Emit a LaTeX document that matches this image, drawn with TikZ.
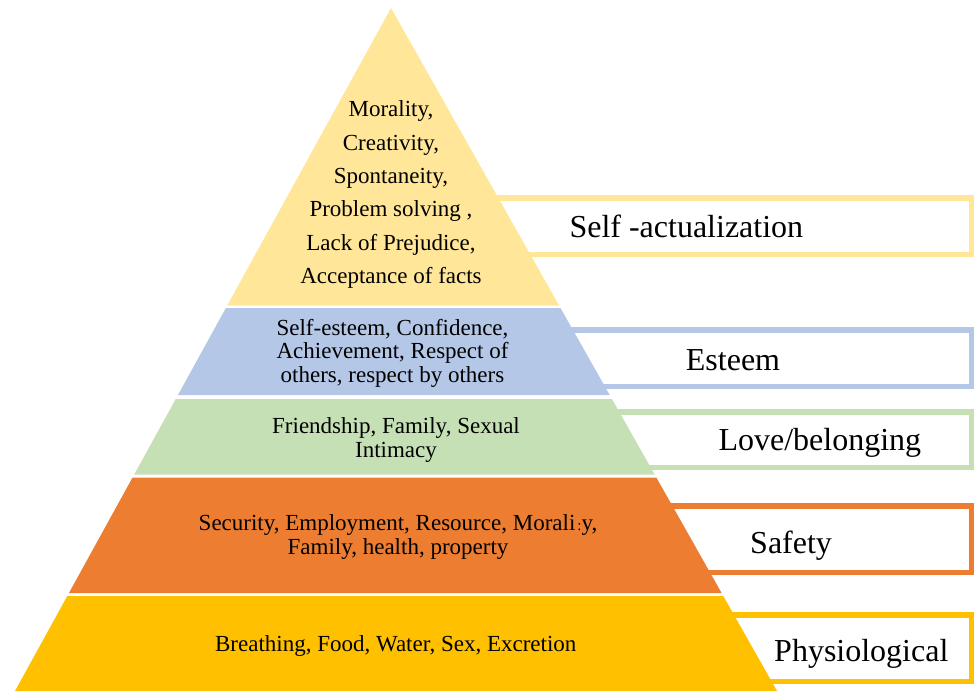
\documentclass[tikz,border=0pt]{standalone}
\usepackage{fontspec}
\setmainfont{Liberation Serif}
\definecolor{topyellow}{HTML}{FFE699}
\definecolor{esteemblue}{HTML}{B4C7E7}
\definecolor{lovegreen}{HTML}{C5E0B4}
\definecolor{safeorange}{HTML}{ED7D31}
\definecolor{basegold}{HTML}{FFC000}
\begin{document}
\begin{tikzpicture}[x=1pt,y=-1pt,
  lvlbox/.style={draw=#1, line width=5.5pt, fill=white},
  % multi-line text: the base anchor sits on the last line
  tiertext/.style={font=\fontsize{23}{#1}\selectfont, align=center, anchor=base, inner sep=0pt},
  lvllabel/.style={font=\fontsize{32}{38}\selectfont, anchor=base west, inner sep=0pt}]
\useasboundingbox (0,0) rectangle (974,691);

% label frames, partly hidden behind the pyramid
\draw[lvlbox=topyellow]  (470,197.75) rectangle (971.25,254.25);
\draw[lvlbox=esteemblue] (550,330)    rectangle (971.25,386.5);
\draw[lvlbox=lovegreen]  (600,411.75) rectangle (971.25,467.25);
\draw[lvlbox=safeorange] (660,506)    rectangle (971.25,572.3);
\draw[lvlbox=basegold]   (720,615)    rectangle (971.25,681.5);

% pyramid tiers
\fill[topyellow]  (391,8) -- (559.1,305.5) -- (227.2,305.5) -- cycle;
\fill[esteemblue] (225.85,308) -- (560.5,308) -- (609.7,395) -- (177.95,395) -- cycle;
\fill[lovegreen]  (175.75,399) -- (611.97,399) -- (654.64,474.5) -- (134.19,474.5) -- cycle;
\fill[safeorange] (132.54,477.5) -- (656.34,477.5) -- (721.61,593) -- (68.95,593) -- cycle;
\fill[basegold]   (67.3,596) -- (723.31,596) -- (777,691) -- (15,691) -- cycle;

% tier contents
\node[tiertext=33.3] (selfact) at (391,283.3) {Morality,\\Creativity,\\Spontaneity,\\Problem solving ,\\Lack of Prejudice,\\Acceptance of facts};
\node[tiertext=23.8] (esteem) at (392.5,382.7) {Self-esteem, Confidence,\\Achievement, Respect of\\others, respect by others};
\node[tiertext=24] (love) at (396,457.3) {Friendship, Family, Sexual\\Intimacy};
\node[tiertext=23.6] (safety) at (398,554.3) {Security, Employment, Resource, Morali\hspace{2pt}{\fontsize{15}{15}\selectfont:}y,\\Family, health, property};
\node[tiertext=24] (physio) at (395.8,651.7) {Breathing, Food, Water, Sex, Excretion};

% level names
\node[lvllabel] (lselfact) at (569.3,237.3) {Self -actualization};
\node[lvllabel] (lesteem)  at (685.7,370)   {Esteem};
\node[lvllabel] (llove)    at (718.3,450.7) {Love/belonging};
\node[lvllabel] (lsafety)  at (750,553.3)   {Safety};
\node[lvllabel] (lphysio)  at (774,661.7)   {Physiological};
\end{tikzpicture}
\end{document}
